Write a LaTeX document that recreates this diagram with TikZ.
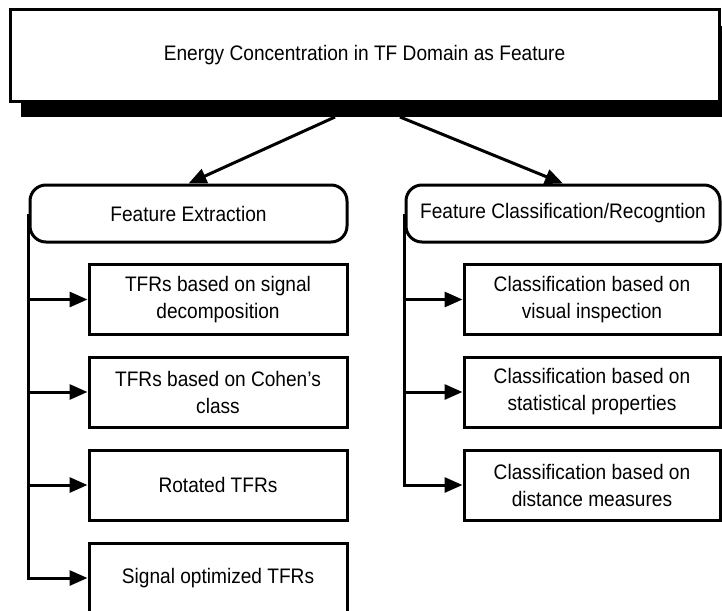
\documentclass[tikz,border=0pt]{standalone}
\usepackage{fontspec}
\setmainfont{Liberation Sans}[FakeStretch=0.91]
\usetikzlibrary{arrows.meta}
\begin{document}
\begin{tikzpicture}[x=1pt,y=-1pt,
  every node/.style={font=\fontsize{21}{27}\selectfont, align=center, inner sep=0pt},
  mainbox/.style={draw=black, line width=3pt, fill=white, minimum width=709pt, minimum height=91pt},
  headbox/.style={draw=black, line width=3pt, fill=white, rounded corners=16pt, minimum height=57pt},
  leafbox/.style={draw=black, line width=3pt, fill=white, minimum height=70pt},
  arr/.style={line width=3pt, -{Triangle[length=18pt,width=15pt]}}]
\useasboundingbox (0,0) rectangle (722,610);
\clip (0,0) rectangle (722,610);
% shadow + title
\fill[black] (21,26) rectangle (740,117);
\node[mainbox] (top) at (364.5,55.5) {Energy Concentration in TF Domain as Feature};
\coordinate (s1) at (335,117);
\coordinate (s2) at (400,117);
% headers
\node[headbox, minimum width=317pt] (fe) at (188.5,213.5) {Feature Extraction};
\node[headbox, minimum width=314pt] (fc) at (563,213.5) {Feature Classification/Recogntion};
% left leaves
\node[leafbox, minimum width=258pt] (l1) at (218,299.5) {TFRs based on signal\\decomposition};
\node[leafbox, minimum width=258pt] (l2) at (218,392) {TFRs based on Cohen’s\\class};
\node[leafbox, minimum width=258pt] (l3) at (218,485) {Rotated TFRs};
\node[leafbox, minimum width=258pt] (l4) at (218,578) {Signal optimized TFRs};
% right leaves
\node[leafbox, minimum width=256pt] (r1) at (592,299.5) {Classification based on\\visual inspection};
\node[leafbox, minimum width=256pt] (r2) at (592,392) {Classification based on\\statistical properties};
\node[leafbox, minimum width=256pt] (r3) at (592,485) {Classification based on\\distance measures};
% connectors
\draw[arr] (s1) -- (fe.north);
\draw[arr] (s2) -- (fc.north);
\foreach \n in {l1,l2,l3,l4} \draw[arr] (fe.west) |- (\n.west);
\foreach \n in {r1,r2,r3} \draw[arr] (fc.west) |- (\n.west);
\end{tikzpicture}
\end{document}
